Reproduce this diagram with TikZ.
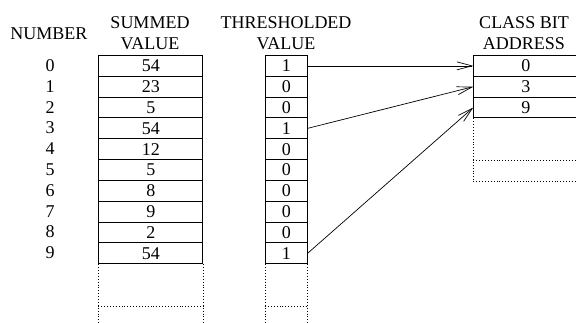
\documentclass[tikz,border=0pt]{standalone}
\usepackage{fontspec}
\setmainfont{Liberation Serif}
\usetikzlibrary{arrows.meta}

\tikzset{
    txt/.style={font=\fontsize{18}{20.5}\selectfont, inner sep=0pt, align=center},
    cell/.style={txt, draw, line width=0.9pt, minimum height=20.83pt, anchor=north west},
    sumcell/.style={cell, minimum width=104pt},
    thrcell/.style={cell, minimum width=41.7pt},
    adrcell/.style={cell, minimum width=104pt},
    ext/.style={dotted, line width=0.9pt},
    link/.style={-{Straight Barb[length=15pt,width=8pt]}, line width=0.7pt}
}

\begin{document}
\begin{tikzpicture}[x=1pt,y=-1pt]
    \useasboundingbox (0,0) rectangle (576,322);

    % headers
    \node[txt] (hnum) at (49,34) {NUMBER};
    \node[txt] (hsum) at (150,33) {SUMMED\\VALUE};
    \node[txt] (hthr) at (286,33) {THRESHOLDED\\VALUE};
    \node[txt] (hadr) at (524,33) {CLASS BIT\\ADDRESS};

    % number column and the two tables
    \foreach \s/\t [count=\i from 0] in {54/1,23/0,5/0,54/1,12/0,5/0,8/0,9/0,2/0,54/1}{
        \node[txt] (n\i) at (50,65.4+\i*20.83) {\i};
        \node[sumcell] (s\i) at (98.3,55+\i*20.83) {\s};
        \node[thrcell] (t\i) at (265,55+\i*20.83) {\t};
    }

    % class bit addresses
    \foreach \a [count=\i from 0] in {0,3,9}
        \node[adrcell] (c\i) at (473.3,55+\i*20.83) {\a};

    % open ends
    \draw[ext] (s9.south west) -- ++(0,62);
    \draw[ext] (s9.south east) -- ++(0,62);
    \draw[ext] ([yshift=-42.4pt]s9.south west) -- ([yshift=-42.4pt]s9.south east);
    \draw[ext] (t9.south west) -- ++(0,62);
    \draw[ext] (t9.south east) -- ++(0,62);
    \draw[ext] ([yshift=-42.4pt]t9.south west) -- ([yshift=-42.4pt]t9.south east);
    \draw[ext] (c2.south west) -- ++(0,62.7);
    \draw[ext] ([yshift=-42pt]c2.south west) -- ([yshift=-42pt]c2.south east);
    \draw[ext] ([yshift=-62.7pt]c2.south west) -- ([yshift=-62.7pt]c2.south east);

    % pointers
    \draw[link] (t0.east) -- (c0.west);
    \draw[link] (t3.east) -- (c1.west);
    \draw[link] (t9.east) -- (c2.west);

\end{tikzpicture}
\end{document}
